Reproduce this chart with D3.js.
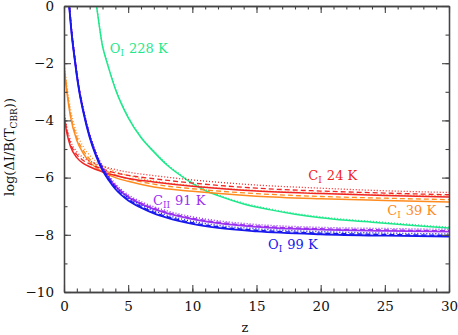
<!DOCTYPE html>
<html>
<head>
<meta charset="utf-8">
<script src="https://cdn.jsdelivr.net/npm/d3@7"></script>
<style>
  body { margin: 0; background: #fff; }
  svg text { font-family: "DejaVu Serif", serif; }
</style>
</head>
<body>
<div id="area"></div>
<script>
// x ticks / y ticks
const X_TICKS = [0, 5, 10, 15, 20, 25, 30];
const Y_TICKS = [-10, -8, -6, -4, -2, 0];

// C I lines (24 K red, 39 K orange)
const Z_C = [0, 0.25, 0.5, 1, 1.5, 2, 3, 4, 5, 7, 10, 15, 20, 25, 30];
const RED_SOLID  = [-3.85, -4.5, -4.9, -5.3, -5.5, -5.62, -5.8, -5.93, -6.03, -6.15, -6.3, -6.47, -6.56, -6.63, -6.68];
const RED_DASH   = [-3.8, -4.4, -4.8, -5.2, -5.4, -5.52, -5.7, -5.83, -5.92, -6.04, -6.19, -6.37, -6.47, -6.54, -6.6];
const RED_DOT    = [-3.7, -4.3, -4.7, -5.1, -5.3, -5.42, -5.6, -5.72, -5.81, -5.93, -6.08, -6.26, -6.37, -6.46, -6.52];
const ORA_SOLID  = [-2.1, -3.1, -3.85, -4.7, -5.15, -5.45, -5.8, -6.0, -6.13, -6.33, -6.48, -6.65, -6.74, -6.8, -6.85];
const ORA_DASH   = [-2.05, -3.0, -3.75, -4.6, -5.05, -5.35, -5.7, -5.9, -6.04, -6.23, -6.39, -6.56, -6.66, -6.72, -6.77];
const ORA_DOT    = [-1.95, -2.85, -3.6, -4.45, -4.92, -5.22, -5.58, -5.79, -5.93, -6.12, -6.28, -6.45, -6.54, -6.6, -6.64];

// O I 99 K (blue), C II 91 K (purple)
const Z_B = [0.3, 0.4, 0.6, 0.84, 1, 1.23, 1.5, 2, 2.5, 3, 3.5, 4, 5, 6, 7, 8, 10, 12, 15, 20, 25, 30];
const BLUE_SOLID = [0.45, 0, -1.0, -1.9, -2.45, -3.1, -3.7, -4.6, -5.25, -5.75, -6.1, -6.4, -6.8, -7.05, -7.25, -7.4, -7.62, -7.76, -7.88, -7.98, -8.03, -8.06];
const BLUE_DASH  = [0.5, 0.05, -0.95, -1.85, -2.4, -3.05, -3.65, -4.55, -5.2, -5.7, -6.06, -6.36, -6.76, -7.01, -7.21, -7.36, -7.58, -7.72, -7.84, -7.94, -7.99, -8.02];
const BLUE_DOT   = [0.55, 0.1, -0.9, -1.8, -2.35, -3.0, -3.6, -4.5, -5.15, -5.65, -6.01, -6.31, -6.71, -6.96, -7.16, -7.31, -7.53, -7.67, -7.79, -7.89, -7.94, -7.97];
const PUR_SOLID  = [0.5, 0.05, -0.95, -1.85, -2.4, -3.05, -3.65, -4.55, -5.2, -5.68, -6.02, -6.3, -6.68, -6.92, -7.1, -7.24, -7.45, -7.59, -7.72, -7.82, -7.86, -7.89];
const PUR_DASH   = [0.52, 0.07, -0.93, -1.83, -2.38, -3.03, -3.63, -4.52, -5.17, -5.65, -5.99, -6.27, -6.65, -6.89, -7.07, -7.21, -7.42, -7.56, -7.69, -7.79, -7.83, -7.86];
const PUR_DOT    = [0.55, 0.1, -0.9, -1.8, -2.35, -3.0, -3.6, -4.49, -5.13, -5.6, -5.94, -6.22, -6.6, -6.84, -7.02, -7.16, -7.37, -7.51, -7.64, -7.74, -7.78, -7.81];

// O I 228 K (green)
const Z_G = [2.35, 2.53, 3, 3.3, 3.5, 4, 4.5, 5, 6, 7, 8, 9, 10, 11, 12, 14, 16, 18, 20, 22, 24, 26, 28, 30];
const GRN_SOLID = [0.5, 0, -1.4, -1.9, -2.2, -2.9, -3.45, -3.9, -4.6, -5.1, -5.55, -5.9, -6.2, -6.45, -6.63, -6.92, -7.12, -7.28, -7.4, -7.49, -7.56, -7.63, -7.7, -7.76];
const GRN_DOT   = [0.55, 0.03, -1.37, -1.87, -2.17, -2.87, -3.42, -3.87, -4.57, -5.07, -5.52, -5.87, -6.17, -6.42, -6.6, -6.89, -7.09, -7.25, -7.37, -7.46, -7.53, -7.6, -7.67, -7.73];

const RED = "#f02424", ORANGE = "#ff8a1e", BLUE = "#1818ee", PURPLE = "#9a30f0", GREEN = "#1ee88a";

const SERIES = [
  {z: Z_G, v: GRN_SOLID, color: GREEN, dash: null, w: 1.5},
  {z: Z_G, v: GRN_DOT, color: GREEN, dash: "1,2", w: 1.3},
  {z: Z_C, v: ORA_DOT, color: ORANGE, dash: "1,2", w: 1.3},
  {z: Z_C, v: ORA_DASH, color: ORANGE, dash: "5,3", w: 1.3},
  {z: Z_C, v: ORA_SOLID, color: ORANGE, dash: null, w: 1.5},
  {z: Z_C, v: RED_DOT, color: RED, dash: "1,2", w: 1.3},
  {z: Z_C, v: RED_DASH, color: RED, dash: "5,3", w: 1.3},
  {z: Z_C, v: RED_SOLID, color: RED, dash: null, w: 1.5},
  {z: Z_B, v: PUR_DOT, color: PURPLE, dash: "1,2", w: 1.4},
  {z: Z_B, v: PUR_DASH, color: PURPLE, dash: "5,3", w: 1.4},
  {z: Z_B, v: PUR_SOLID, color: PURPLE, dash: null, w: 1.8},
  {z: Z_B, v: BLUE_DOT, color: BLUE, dash: "1,2", w: 1.4},
  {z: Z_B, v: BLUE_DASH, color: BLUE, dash: "5,3", w: 1.4},
  {z: Z_B, v: BLUE_SOLID, color: BLUE, dash: null, w: 1.8},
];

// label anchors in data units
const LABELS = [
  {z: 3.57, v: -1.63, sym: "O", sub: "I", rest: "228 K", color: GREEN},
  {z: 6.93, v: -6.97, sym: "C", sub: "II", rest: "91 K", color: PURPLE},
  {z: 15.9, v: -8.5, sym: "O", sub: "I", rest: "99 K", color: BLUE},
  {z: 19.04, v: -6.1, sym: "C", sub: "I", rest: "24 K", color: RED},
  {z: 25.19, v: -7.32, sym: "C", sub: "I", rest: "39 K", color: ORANGE},
];

const W = 458, H = 335;
const margin = {top: 6, right: 9, bottom: 43, left: 64};
const width = W - margin.left - margin.right, height = H - margin.top - margin.bottom;

const svg = d3.select("#area").append("svg").attr("width", W).attr("height", H);
const g = svg.append("g").attr("transform", `translate(${margin.left},${margin.top})`);

const x = d3.scaleLinear().domain([0, 30]).range([0, width]);
const y = d3.scaleLinear().domain([-10, 0]).range([height, 0]);

svg.append("defs").append("clipPath").attr("id", "clip")
  .append("rect").attr("width", width).attr("height", height);

const line = d3.line().x(d => x(d[0])).y(d => y(d[1])).curve(d3.curveMonotoneX);

g.append("g").attr("clip-path", "url(#clip)").selectAll("path").data(SERIES).enter().append("path")
  .attr("d", s => line(s.z.map((z, i) => [z, s.v[i]])))
  .attr("fill", "none").attr("stroke", s => s.color)
  .attr("stroke-width", s => s.w)
  .attr("stroke-dasharray", s => s.dash);

// axes: ticks inward on all four sides
const AX = "#444";
function styleAxis(sel) {
  sel.select(".domain").attr("stroke", AX).attr("stroke-width", 1.3);
  sel.selectAll(".tick line").attr("stroke", AX).attr("stroke-width", 1.1);
  sel.selectAll(".tick text").attr("font-family", "DejaVu Serif").attr("font-size", 13.5).attr("fill", "#111");
}
const fmt = d => d < 0 ? "\u2212" + Math.abs(d) : String(d);

g.append("g").attr("transform", `translate(0,${height})`)
  .call(d3.axisBottom(x).tickValues(d3.range(0, 31, 1)).tickSize(-3.5).tickSizeOuter(0).tickFormat("")).call(styleAxis);
g.append("g").attr("transform", `translate(0,${height})`)
  .call(d3.axisBottom(x).tickValues(X_TICKS).tickSize(-7).tickSizeOuter(0).tickPadding(9).tickFormat(fmt)).call(styleAxis);
g.append("g")
  .call(d3.axisTop(x).tickValues(d3.range(0, 31, 1)).tickSize(-3.5).tickSizeOuter(0).tickFormat("")).call(styleAxis);
g.append("g")
  .call(d3.axisTop(x).tickValues(X_TICKS).tickSize(-7).tickSizeOuter(0).tickFormat("")).call(styleAxis);

g.append("g")
  .call(d3.axisLeft(y).tickValues(d3.range(-10, 1, 1)).tickSize(-3.5).tickSizeOuter(0).tickFormat("")).call(styleAxis);
g.append("g")
  .call(d3.axisLeft(y).tickValues(Y_TICKS).tickSize(-7).tickSizeOuter(0).tickPadding(10).tickFormat(fmt)).call(styleAxis);
g.append("g").attr("transform", `translate(${width},0)`)
  .call(d3.axisRight(y).tickValues(d3.range(-10, 1, 1)).tickSize(-3.5).tickSizeOuter(0).tickFormat("")).call(styleAxis);
g.append("g").attr("transform", `translate(${width},0)`)
  .call(d3.axisRight(y).tickValues(Y_TICKS).tickSize(-7).tickSizeOuter(0).tickFormat("")).call(styleAxis);

// curve labels
LABELS.forEach(l => {
  const t = g.append("text").attr("x", x(l.z)).attr("y", y(l.v))
    .attr("font-size", 13).attr("fill", l.color);
  t.append("tspan").text(l.sym);
  t.append("tspan").attr("dy", 3).attr("font-size", 9).text(l.sub);
  t.append("tspan").attr("dy", -3).attr("dx", 5).text(l.rest);
});

// axis titles
svg.append("text").attr("x", 245).attr("y", 332).attr("text-anchor", "middle")
  .attr("font-size", 13).attr("fill", "#111").text("z");

const yl = svg.append("text").attr("transform", "translate(14,147) rotate(-90)")
  .attr("text-anchor", "middle").attr("font-size", 13).attr("fill", "#111");
yl.append("tspan").text("log(\u0394I/B(T");
yl.append("tspan").attr("dy", 3).attr("font-size", 9).text("CBR");
yl.append("tspan").attr("dy", -3).text("))");
</script>
</body>
</html>
